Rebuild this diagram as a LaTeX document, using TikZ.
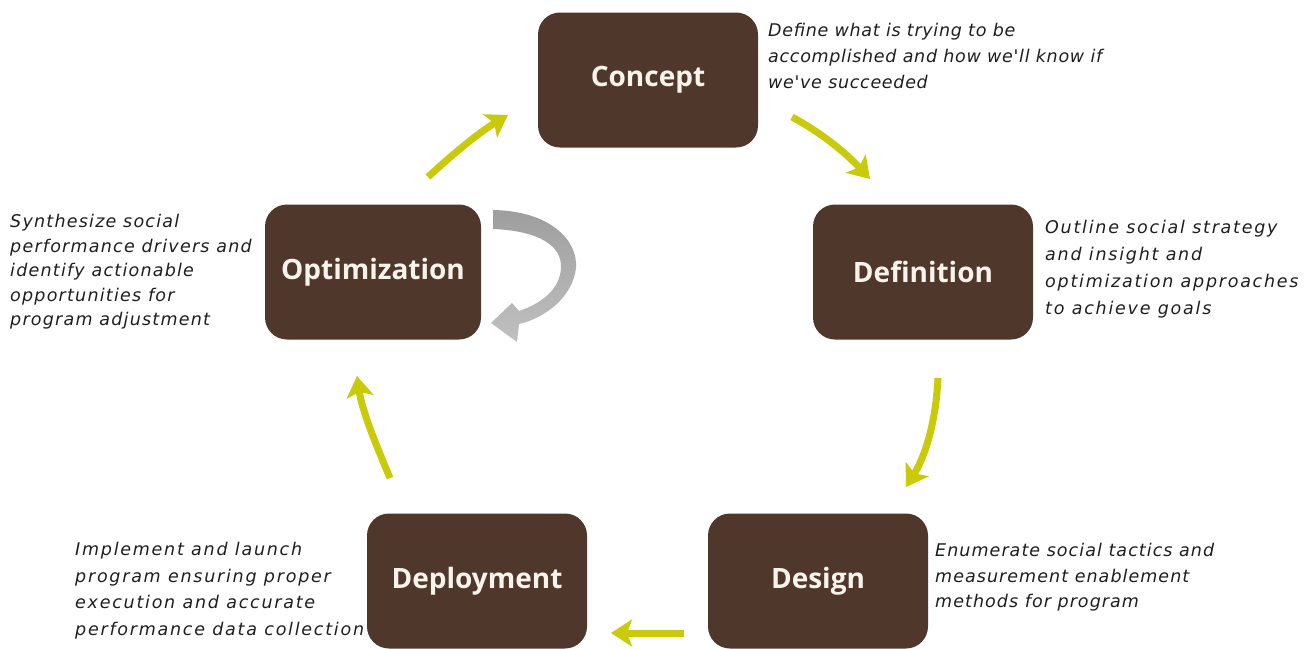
\documentclass[tikz,border=0pt]{standalone}
\usepackage{fontspec}
\usetikzlibrary{arrows.meta}
\newfontfamily\titlefont{Open Sans}
\newfontfamily\descfont{DejaVu Sans}
\definecolor{boxbrown}{RGB}{80,55,44}
\definecolor{arrowyellow}{RGB}{200,202,10}
\definecolor{desctext}{RGB}{30,30,30}
\definecolor{titletext}{RGB}{248,244,236}
\tikzset{
  stagebox/.style={draw=none, fill=boxbrown, rounded corners=22pt, minimum width=220pt, minimum height=135pt,
    text=titletext, font={\titlefont\bfseries\fontsize{28}{32}\selectfont}},
  desc/.style={anchor=north west, inner sep=0pt, align=left, text=desctext},
  flow/.style={draw=arrowyellow, line width=7pt, -{Stealth[length=21pt,width=27pt,inset=5pt]}},
}
\newcommand{\dfont}[1]{\descfont\itshape\addfontfeature{LetterSpace=#1}\fontsize{17.5}{26}\selectfont}
\begin{document}
\begin{tikzpicture}[x=1pt,y=-1pt]
\useasboundingbox (0,0) rectangle (1306,648);
% boxes
\node[stagebox] (concept) at (648,80) {Concept};
\node[stagebox] (definition) at (923,272) {Definition};
\node[stagebox, minimum width=216pt] (optimization) at (373,272) {Optimization};
\node[stagebox] (deployment) at (477,581) {Deployment};
\node[stagebox] (design) at (818,581) {Design};
% descriptions
\node[desc, font={\dfont{4}}] (dconcept) at (768,23) {Define what is trying to be\\accomplished and how we'll know if\\we've succeeded};
\node[desc, font={\dfont{10}\fontsize{17.5}{27}\selectfont}] (ddefinition) at (1045,220) {Outline social strategy\\and insight and\\optimization approaches\\to achieve goals};
\node[desc, font={\dfont{7}\fontsize{17.5}{24.5}\selectfont}] (doptimization) at (10,214) {Synthesize social\\performance drivers and\\identify actionable\\opportunities for\\program adjustment};
\node[desc, font={\dfont{10}\fontsize{17.5}{26.5}\selectfont}] (ddeployment) at (75,542) {Implement and launch\\program ensuring proper\\execution and accurate\\performance data collection};
\node[desc, font={\dfont{6}\fontsize{17.5}{25.5}\selectfont}] (ddesign) at (935,543) {Enumerate social tactics and\\measurement enablement\\methods for program};
% arrow end points
\coordinate (a1s) at (428,177); \coordinate (a1e) at (508,115);
\coordinate (a2s) at (792,117); \coordinate (a2e) at (870,179);
\coordinate (a3s) at (938,378); \coordinate (a3e) at (906,487);
\coordinate (a4s) at (684,633); \coordinate (a4e) at (611,633);
\coordinate (a5s) at (390,478); \coordinate (a5e) at (357,376);
\draw[flow] (a1s) .. controls (455,152) and (480,132) .. (a1e);
\draw[flow] (a2s) .. controls (820,132) and (845,152) .. (a2e);
\draw[flow] (a3s) .. controls (936,420) and (926,455) .. (a3e);
\draw[flow] (a4s) -- (a4e);
\draw[flow] (a5s) .. controls (374,440) and (362,410) .. (a5e);
% grey loop arrow
\shade[top color={rgb,255:red,158;green,158;blue,158}, bottom color={rgb,255:red,192;green,192;blue,192}]
  (493,210) .. controls (550,211) and (578,240) .. (576,268)
  .. controls (573,296) and (546,318) .. (519,324)
  -- (517,342) -- (491,323) -- (512,303) -- (519,311)
  .. controls (540,304) and (560,290) .. (561,268)
  .. controls (562,246) and (540,231) .. (493,229) -- cycle;
\end{tikzpicture}
\end{document}
